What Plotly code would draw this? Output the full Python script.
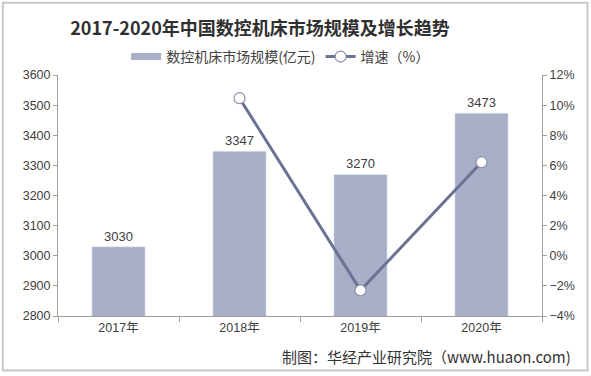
import plotly.graph_objects as go

years = ["2017年", "2018年", "2019年", "2020年"]
market_size = [3030, 3347, 3270, 3473]
growth_years = ["2018年", "2019年", "2020年"]
growth_pct = [10.46, -2.30, 6.21]

font_family = "Noto Sans CJK SC, Noto Sans, sans-serif"
latin = "Liberation Sans, Arial, Noto Sans CJK SC"
txt = "#404040"
bar_color = "#a9afc6"

fig = go.Figure()
fig.add_trace(go.Bar(
    x=years, y=market_size, name="数控机床市场规模(亿元)", showlegend=False,
    marker=dict(color=bar_color), width=0.44,
    text=[str(v) for v in market_size], textposition="outside",
    textfont=dict(size=13, color=txt, family=latin),
    cliponaxis=False,
))
# legend swatch mimicking the wide bar key
fig.add_trace(go.Scatter(
    x=[None], y=[None], name="数控机床市场规模(亿元)", mode="lines",
    line=dict(color=bar_color, width=7),
))
fig.add_trace(go.Scatter(
    x=growth_years, y=growth_pct, name="增速（%）", yaxis="y2",
    mode="lines+markers",
    line=dict(color="#6b7394", width=3),
    marker=dict(size=11, color="white", line=dict(color="#8a90a8", width=1.2)),
    cliponaxis=False,
))

fig.update_layout(
    width=591, height=376,
    margin=dict(l=58, r=49, t=75, b=60),
    paper_bgcolor="white", plot_bgcolor="white",
    font=dict(family=font_family, color=txt, size=12),
    title=dict(text="<b>2017-2020年中国数控机床市场规模及增长趋势</b>",
               x=0.44, xanchor="center", y=0.925, yanchor="middle",
               font=dict(size=18, color="#303030", family=font_family)),
    legend=dict(orientation="h", x=0.46, xanchor="center", y=1.075, yanchor="middle",
                font=dict(size=14, color=txt), traceorder="normal"),
    showlegend=True,
    xaxis=dict(type="category", categoryorder="array", categoryarray=years,
               showline=True, linecolor="#a0a0a0", linewidth=1,
               ticks="outside", tickson="boundaries", ticklen=5, tickcolor="#a0a0a0",
               tickfont=dict(size=12.5, color=txt, family=latin),
               showgrid=False),
    yaxis=dict(range=[2800, 3600], dtick=100, showline=True, linecolor="#a0a0a0",
               ticks="outside", ticklen=4, tickcolor="#a0a0a0", showgrid=False,
               zeroline=False,
               tickfont=dict(size=12.5, color=txt, family=latin)),
    yaxis2=dict(range=[-4, 12], dtick=2, ticksuffix="%", overlaying="y", side="right",
                showline=True, linecolor="#a0a0a0", ticks="outside", ticklen=4,
                tickcolor="#a0a0a0", showgrid=False, zeroline=False,
                tickfont=dict(size=12.5, color=txt, family=latin)),
    shapes=[dict(type="rect", xref="paper", yref="paper", x0=-0.114, x1=1.094,
                 y0=-0.226, y1=1.30, line=dict(color="#c8c8c8", width=2))],
    annotations=[
        dict(text="制图：华经产业研究院（www.huaon.com)", xref="paper", yref="paper",
             x=1.065, xanchor="right", y=-0.17, yanchor="middle", showarrow=False,
             font=dict(size=15, color="#333333", family=font_family)),
    ],
)

fig.write_html("out.html", config={"displayModeBar": False},
               post_script="document.body.style.margin='0';")
